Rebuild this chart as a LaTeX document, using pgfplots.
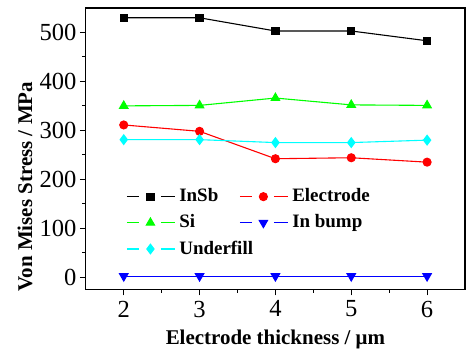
\documentclass[border=0pt]{standalone}
\usepackage{pgfplots}
\pgfplotsset{compat=1.18}
\usepackage{fontspec}
\setmainfont{Liberation Serif}
\definecolor{cgreen}{RGB}{0,255,0}
\definecolor{ccyan}{RGB}{0,255,255}
\begin{document}
\begin{tikzpicture}
\begin{axis}[
  scale only axis,
  width=190pt, height=141pt,
  xmin=1.5, xmax=6.5, ymin=-25, ymax=550,
  xtick={2,3,4,5,6}, ytick={0,100,200,300,400,500},
  minor x tick num=1, minor y tick num=1,
  tick align=outside, tick pos=left,
  major tick length=3pt, minor tick length=1.8pt,
  /pgf/number format/assume math mode=true,
  tick label style={font=\fontsize{12.3}{14}\selectfont, inner sep=1pt},
  xticklabel style={yshift=-1.5pt},
  yticklabel style={xshift=-0.5pt},
  xlabel={\textbf{Electrode thickness / μm}},
  ylabel={\textbf{Von Mises Stress / MPa}},
  label style={font=\fontsize{10.5}{12}\selectfont, inner sep=0pt},
  xlabel style={at={([yshift=-27.5pt]rel axis cs:0.5,0)}, anchor=base},
  ylabel style={at={([xshift=-30.5pt]rel axis cs:0,0.365)}, anchor=center, rotate=0},
  axis line style={line width=0.6pt},
  every tick/.style={line width=0.5pt, black},
  legend style={draw=none, fill=none, at={(0.09,0.388)}, anchor=north west,
    font=\bfseries\fontsize{9.5}{11}\selectfont, row sep=1pt,
    /tikz/every even column/.append style={column sep=8.5pt}},
  legend columns=2,
  legend cell align=left,
  legend image code/.code={
    \draw[mark=none] (0pt,0pt) -- (6pt,0pt);
    \draw[mark=none] (17pt,0pt) -- (24pt,0pt);
    \draw plot[only marks] coordinates {(11.8pt,0pt)};
  },
  every axis plot/.append style={line width=0.55pt, mark size=1.8pt},
  extra description/.code={
    \path (rel axis cs:0,1) ++(-43pt,4pt);
    \path (rel axis cs:1,0) ++(1.5pt,-29pt);
  },
]
\addplot[black, mark=square*] coordinates {(2,530) (3,530) (4,503) (5,503) (6,483)};
\addlegendentry{InSb}
\addplot[red, mark=*, mark size=2pt] coordinates {(2,311) (3,298) (4,242) (5,244) (6,235)};
\addlegendentry{Electrode}
\addplot[cgreen, mark=triangle*, mark size=2.4pt] coordinates {(2,350) (3,351) (4,366) (5,352) (6,351)};
\addlegendentry{Si}
\addplot[blue, mark=triangle*, mark size=2.4pt, mark options={rotate=180}] coordinates {(2,2) (3,2) (4,2) (5,2) (6,2)};
\addlegendentry{In bump}
\addplot[ccyan, mark=diamond*, mark size=2.4pt] coordinates {(2,281) (3,281) (4,275) (5,275) (6,280)};
\addlegendentry{\makebox[0pt][l]{Underfill}}
\end{axis}
\end{tikzpicture}
\end{document}
